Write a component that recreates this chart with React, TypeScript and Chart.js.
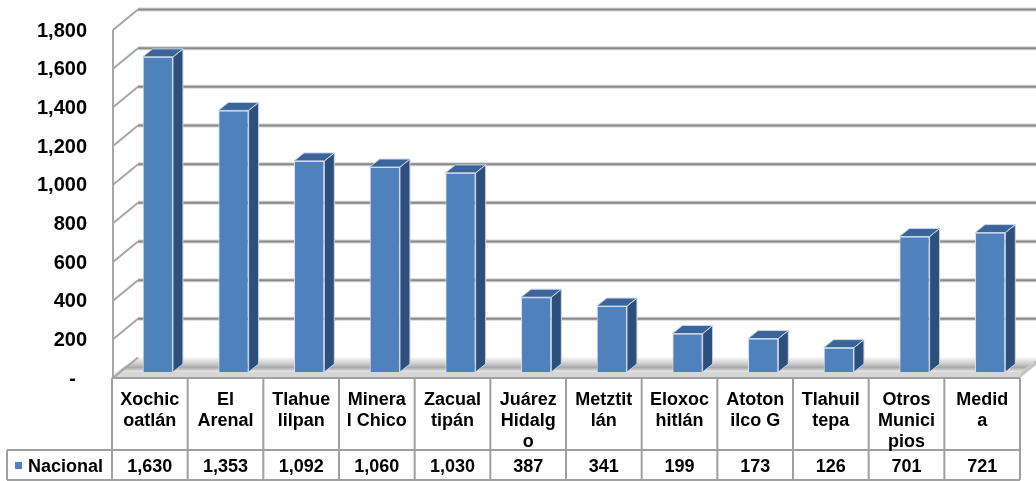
import React, { useEffect, useRef } from "react";
import { Chart, registerables } from "chart.js";

Chart.register(...registerables);

const categories: string[][] = [
  ["Xochic", "oatlán"],
  ["El", "Arenal"],
  ["Tlahue", "lilpan"],
  ["Minera", "l Chico"],
  ["Zacual", "tipán"],
  ["Juárez", "Hidalg", "o"],
  ["Metztit", "lán"],
  ["Eloxoc", "hitlán"],
  ["Atoton", "ilco G"],
  ["Tlahuil", "tepa"],
  ["Otros", "Munici", "pios"],
  ["Medid", "a"],
];
const seriesName = "Nacional";
const nacional: number[] = [1630, 1353, 1092, 1060, 1030, 387, 341, 199, 173, 126, 701, 721];
const yTicks: number[] = [0, 200, 400, 600, 800, 1000, 1200, 1400, 1600, 1800];

const FONT = '"Liberation Sans", Arial, sans-serif';
const fmt = (v: number) => (v === 0 ? "-" : v.toLocaleString("en-US"));

const FRONT_DY = 6;
const BACK_DY = -14.5;
const FRONT_X = 113;
const BACK_X = 138;
const BAR_DX = 10;
const BAR_DY = 8;

const scenePlugin = {
  id: "scene3d",
  beforeDatasetsDraw(chart: any) {
    const ctx = chart.ctx;
    const y = chart.scales.y;
    const W = chart.width;
    ctx.save();
    const zero = y.getPixelForValue(0);
    const fy = zero + FRONT_DY;
    const by = zero + BACK_DY;
    const x = chart.scales.x;
    const step = x.getPixelForValue(1) - x.getPixelForValue(0);
    const rightFront = x.getPixelForValue(0) - step / 2 - 8 + step * categories.length;
    const slope = (BACK_X - FRONT_X) / (fy - by);
    const topFront = zero + 1;
    const topLeftX = FRONT_X + 2;
    // floor top surface
    const g = ctx.createLinearGradient(0, by, 0, topFront);
    g.addColorStop(0, "#f6f6f6");
    g.addColorStop(0.35, "#d2d2d2");
    g.addColorStop(0.65, "#a9a9a9");
    g.addColorStop(0.9, "#e4e4e4");
    g.addColorStop(1, "#cfcfcf");
    ctx.fillStyle = g;
    ctx.beginPath();
    ctx.moveTo(topLeftX, topFront);
    ctx.lineTo(rightFront, topFront);
    ctx.lineTo(rightFront + (topFront - by) * slope, by);
    ctx.lineTo(BACK_X, by);
    ctx.closePath();
    ctx.fill();
    // floor front face
    ctx.fillStyle = "#d6d6d6";
    ctx.beginPath();
    ctx.moveTo(FRONT_X, fy);
    ctx.lineTo(rightFront, fy);
    ctx.lineTo(rightFront, topFront);
    ctx.lineTo(topLeftX, topFront);
    ctx.closePath();
    ctx.fill();
    ctx.fillStyle = "#c4c4c4";
    ctx.beginPath();
    ctx.moveTo(rightFront, fy);
    ctx.lineTo(rightFront + (fy - by) * slope, by);
    ctx.lineTo(rightFront + (topFront - by) * slope, by);
    ctx.lineTo(rightFront, topFront);
    ctx.closePath();
    ctx.fill();
    // back wall gridlines and side wall diagonals
    for (const v of yTicks) {
      const p = y.getPixelForValue(v);
      const yb = p + BACK_DY;
      const yf = p + FRONT_DY;
      if (v !== 0) {
        ctx.strokeStyle = "#d4d4d4";
        ctx.lineWidth = 4;
        ctx.beginPath();
        ctx.moveTo(BACK_X, yb);
        ctx.lineTo(W, yb);
        ctx.stroke();
        ctx.strokeStyle = "#8a8a8a";
        ctx.lineWidth = 2;
        ctx.beginPath();
        ctx.moveTo(BACK_X, yb);
        ctx.lineTo(W, yb);
        ctx.stroke();
      }
      ctx.strokeStyle = "#a6a6a6";
      ctx.lineWidth = 2;
      ctx.beginPath();
      ctx.moveTo(FRONT_X, yf);
      ctx.lineTo(BACK_X, yb);
      ctx.stroke();
    }
    // front axis line
    ctx.strokeStyle = "#a6a6a6";
    ctx.lineWidth = 2;
    ctx.beginPath();
    ctx.moveTo(FRONT_X, y.getPixelForValue(1800) + FRONT_DY);
    ctx.lineTo(FRONT_X, fy);
    ctx.stroke();
    ctx.restore();
  },
  afterDatasetsDraw(chart: any) {
    const ctx = chart.ctx;
    const meta = chart.getDatasetMeta(0);
    ctx.save();
    ctx.lineWidth = 1;
    ctx.strokeStyle = "#c9d6ea";
    meta.data.forEach((bar: any) => {
      const { x, y, base, width } = bar.getProps(["x", "y", "base", "width"], true);
      const l = x - width / 2;
      const r = x + width / 2;
      ctx.fillStyle = "#2d4f7c";
      ctx.beginPath();
      ctx.moveTo(r, y);
      ctx.lineTo(r + BAR_DX, y - BAR_DY);
      ctx.lineTo(r + BAR_DX, base - BAR_DY);
      ctx.lineTo(r, base);
      ctx.closePath();
      ctx.fill();
      ctx.stroke();
      ctx.fillStyle = "#3b6499";
      ctx.beginPath();
      ctx.moveTo(l, y);
      ctx.lineTo(l + BAR_DX, y - BAR_DY);
      ctx.lineTo(r + BAR_DX, y - BAR_DY);
      ctx.lineTo(r, y);
      ctx.closePath();
      ctx.fill();
      ctx.stroke();
    });
    ctx.restore();
  },
  afterDraw(chart: any) {
    const ctx = chart.ctx;
    const y = chart.scales.y;
    const x = chart.scales.x;
    ctx.save();
    ctx.fillStyle = "#000";
    ctx.font = `bold 20px ${FONT}`;
    ctx.textBaseline = "middle";
    ctx.textAlign = "right";
    for (const v of yTicks) {
      const p = y.getPixelForValue(v) + FRONT_DY + 1;
      ctx.fillText(fmt(v), v === 0 ? 76 : 87, p);
    }
    const step = x.getPixelForValue(1) - x.getPixelForValue(0);
    const left0 = x.getPixelForValue(0) - step / 2 - 8;
    const n = categories.length;
    const right = left0 + step * n;
    const top = y.getPixelForValue(0) + FRONT_DY;
    const mid = 450;
    const bot = 480;
    ctx.strokeStyle = "#a0a0a0";
    ctx.lineWidth = 2;
    ctx.beginPath();
    ctx.moveTo(left0, top);
    ctx.lineTo(right, top);
    ctx.moveTo(7, mid);
    ctx.lineTo(right, mid);
    ctx.moveTo(7, bot);
    ctx.lineTo(right, bot);
    ctx.moveTo(7, mid);
    ctx.lineTo(7, bot);
    for (let i = 0; i <= n; i++) {
      const cx = left0 + i * step;
      ctx.moveTo(cx, top);
      ctx.lineTo(cx, bot);
    }
    ctx.stroke();
    ctx.font = `bold 18px ${FONT}`;
    ctx.textAlign = "center";
    ctx.textBaseline = "alphabetic";
    categories.forEach((lines, i) => {
      const cx = left0 + (i + 0.5) * step;
      lines.forEach((ln, j) => ctx.fillText(ln, cx, 405 + j * 21));
      ctx.fillText(fmt(nacional[i]), cx, 472);
    });
    ctx.fillStyle = "#4f81bd";
    ctx.fillRect(15, 462, 7, 7);
    ctx.fillStyle = "#000";
    ctx.textAlign = "left";
    ctx.fillText(seriesName, 28, 472);
    ctx.restore();
  },
};

export default function App() {
  const ref = useRef<HTMLCanvasElement | null>(null);
  useEffect(() => {
    document.body.style.margin = "0";
    const canvas = ref.current;
    if (!canvas) return;
    const chart = new Chart(canvas, {
      type: "bar",
      data: {
        labels: categories,
        datasets: [
          {
            label: seriesName,
            data: nacional,
            backgroundColor: "#4f81bd",
            borderColor: "#d6e0ef",
            borderWidth: 1,
            barPercentage: 0.4,
            categoryPercentage: 1,
          },
        ],
      },
      options: {
        responsive: false,
        animation: false,
        layout: { padding: { left: 120, right: 8, top: 24, bottom: 109 } },
        plugins: { legend: { display: false }, tooltip: { enabled: false } },
        scales: {
          x: { display: false },
          y: { display: false, min: 0, max: 1800 },
        },
      },
      plugins: [scenePlugin],
    });
    return () => chart.destroy();
  }, []);
  return <canvas ref={ref} width={1036} height={481} style={{ display: "block" }} />;
}
